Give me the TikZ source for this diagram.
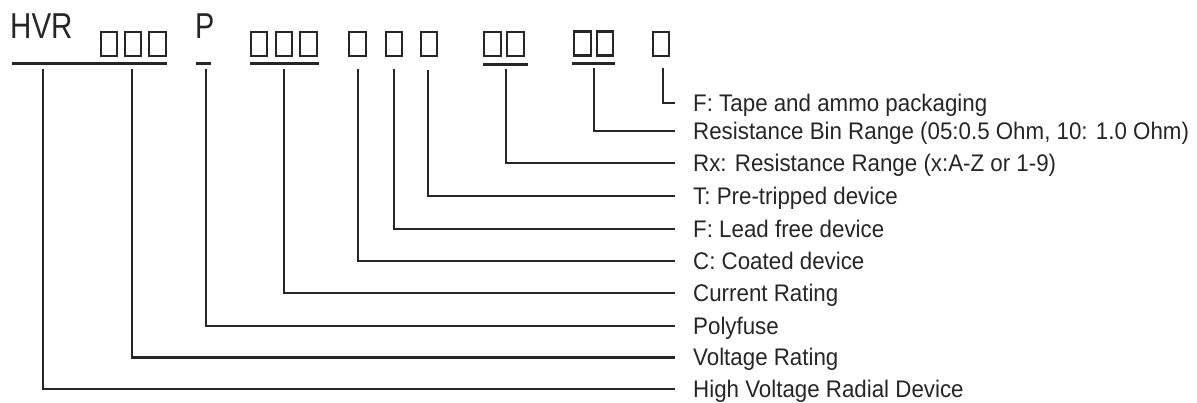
\documentclass[tikz,border=0pt]{standalone}
\usepackage{fontspec}
\usepackage{graphicx}
\setmainfont{Liberation Sans}
\newfontfamily\labfamily{Liberation Sans}
\newfontfamily\narrowfamily[FakeStretch=0.93]{Liberation Sans}
\begin{document}
\begin{tikzpicture}[x=1pt,y=-1pt,
  codetext/.style={anchor=base west,inner sep=0pt,font=\labfamily\fontsize{36}{36}\selectfont},
  codebox/.style={draw=black!85,line width=2.2pt,minimum width=16.5pt,minimum height=24pt,inner sep=0pt},
  uline/.style={line width=3pt,black!85},
  conn/.style={line width=2pt,black!85},
  lab/.style={anchor=west,inner xsep=0pt,inner ysep=0pt,text height=17pt,text depth=0pt,
    xshift=18pt,font=\narrowfamily\fontsize{24}{24}\selectfont,text=black!85}
]
\useasboundingbox (0,0) rectangle (1197,403);
% code line
\node[codetext,text=black!85] (hvr) at (10,39) {\scalebox{0.82}[1]{HVR}};
\node[codebox] (b1) at (109,44) {};
\node[codebox] (b2) at (133,44) {};
\node[codebox] (b3) at (157.5,44) {};
\node[codetext,text=black!85] (p) at (195,39) {\scalebox{0.8}[1]{P}};
\node[codebox] (c1) at (259,44) {};
\node[codebox] (c2) at (284,44) {};
\node[codebox] (c3) at (308.5,44) {};
\node[codebox] (d1) at (357.5,44) {};
\node[codebox] (d2) at (394,44) {};
\node[codebox] (d3) at (429,44) {};
\node[codebox] (e1) at (492.5,44) {};
\node[codebox] (e2) at (515.5,44) {};
\node[codebox] (f1) at (582.5,43.5) {};
\node[codebox] (f2) at (605,43.5) {};
\node[codebox] (g1) at (661,44) {};
% underlines
\coordinate (ua1) at (12,64);  \coordinate (ua2) at (167,64);
\coordinate (ub1) at (196,64); \coordinate (ub2) at (211,64);
\coordinate (uc1) at (250,64); \coordinate (uc2) at (319,64);
\coordinate (ud1) at (483,64.5); \coordinate (ud2) at (528,64.5);
\coordinate (ue1) at (572,64); \coordinate (ue2) at (615,64);
\draw[uline] (ua1) -- (ua2);
\draw[uline] (ub1) -- (ub2);
\draw[uline] (uc1) -- (uc2);
\draw[uline] (ud1) -- (ud2);
\draw[uline] (ue1) -- (ue2);
% connector starts
\coordinate (s1) at (43,69);
\coordinate (s2) at (132,69);
\coordinate (s3) at (206,69);
\coordinate (s4) at (284,69);
\coordinate (s5) at (358,69);
\coordinate (s6) at (394,69);
\coordinate (s7) at (428,70);
\coordinate (s8) at (506,69);
\coordinate (s9) at (594,68);
\coordinate (s10) at (663,68);
% labels
\node[lab] (l10) at (675,103) {F: Tape and ammo packaging};
\node[lab] (l9) at (675,131) {Resistance Bin Range (05:0.5 Ohm, 10: 1.0 Ohm)};
\node[lab] (l8) at (675,163) {Rx: Resistance Range (x:A-Z or 1-9)};
\node[lab] (l7) at (675,196) {T: Pre-tripped device};
\node[lab] (l6) at (675,229) {F: Lead free device};
\node[lab] (l5) at (675,261) {C: Coated device};
\node[lab] (l4) at (675,293) {Current Rating};
\node[lab] (l3) at (675,326) {Polyfuse};
\node[lab] (l2) at (675,357.5) {Voltage Rating};
\node[lab] (l1) at (675,389) {High Voltage Radial Device};
% connectors
\draw[conn] (s1) |- ([xshift=-18pt]l1.west);
\draw[conn] (s2) |- ([xshift=-18pt]l2.west);
\draw[conn] (s3) |- ([xshift=-18pt]l3.west);
\draw[conn] (s4) |- ([xshift=-18pt]l4.west);
\draw[conn] (s5) |- ([xshift=-18pt]l5.west);
\draw[conn] (s6) |- ([xshift=-18pt]l6.west);
\draw[conn] (s7) |- ([xshift=-18pt]l7.west);
\draw[conn] (s8) |- ([xshift=-18pt]l8.west);
\draw[conn] (s9) |- ([xshift=-18pt]l9.west);
\draw[conn] (s10) |- ([xshift=-18pt]l10.west);
\end{tikzpicture}
\end{document}
